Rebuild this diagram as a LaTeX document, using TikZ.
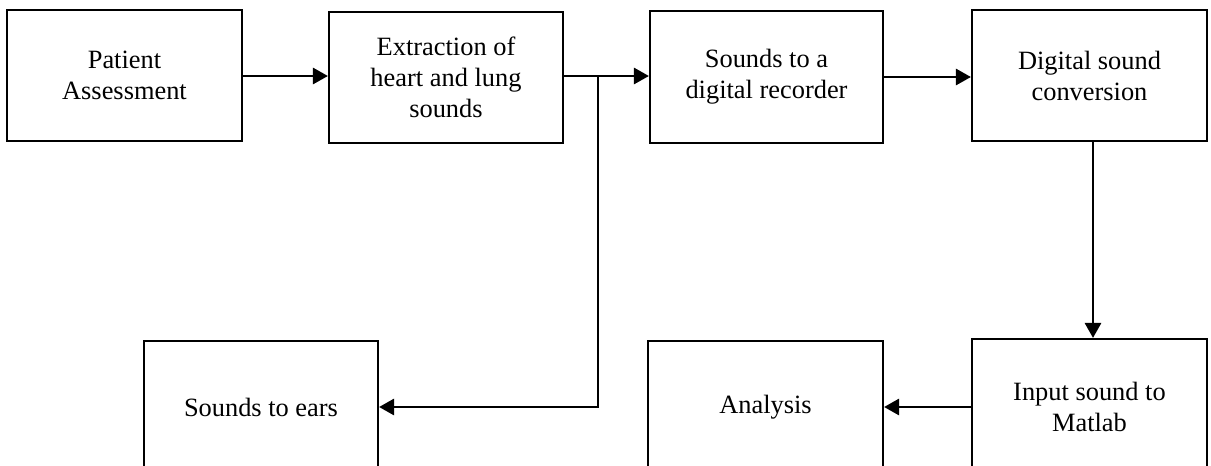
\documentclass[tikz,border=0pt]{standalone}
\usepackage{fontspec}
\setmainfont{Liberation Serif}
\usetikzlibrary{arrows.meta}
\begin{document}
\begin{tikzpicture}[x=1pt,y=-1pt,
  box/.style={draw=black,line width=2.1pt,align=center,inner sep=0pt,
    font=\fontsize{26.4}{31}\selectfont},
  arr/.style={draw=black,line width=2.8pt,-{Triangle[length=15pt,width=16pt]}}]
\useasboundingbox (0,0) rectangle (1211,466);
\clip (0,0) rectangle (1211,466);
\node[box,minimum width=235pt,minimum height=131pt] (P) at (124.5,75.5) {Patient\\Assessment};
\node[box,minimum width=234pt,minimum height=131pt] (E) at (446,77.5) {Extraction of\\heart and lung\\sounds};
\node[box,minimum width=233pt,minimum height=132pt] (S) at (766.5,77) {Sounds to a\\digital recorder};
\node[box,minimum width=235pt,minimum height=131pt] (D) at (1089.5,75.5) {Digital sound\\conversion};
\node[box,minimum width=235pt,minimum height=136pt] (I) at (1089.5,407) {Input sound to\\Matlab};
\node[box,minimum width=235pt,minimum height=132pt] (A) at (765.5,407) {Analysis};
\node[box,minimum width=234pt,minimum height=132pt] (R) at (261,407) {Sounds to ears};
\coordinate (J) at (598,76);
\draw[arr] (P.east |- 0,76) -- (E.west |- 0,76);
\draw[arr] (E.east |- J) -- (S.west |- J);
\draw[arr] (J) |- (R.east);
\draw[arr] (S.east |- 0,77) -- (D.west |- 0,77);
\draw[arr] (D.south -| 1093,0) -- (I.north -| 1093,0);
\draw[arr] (I.west) -- (A.east);
\end{tikzpicture}
\end{document}
